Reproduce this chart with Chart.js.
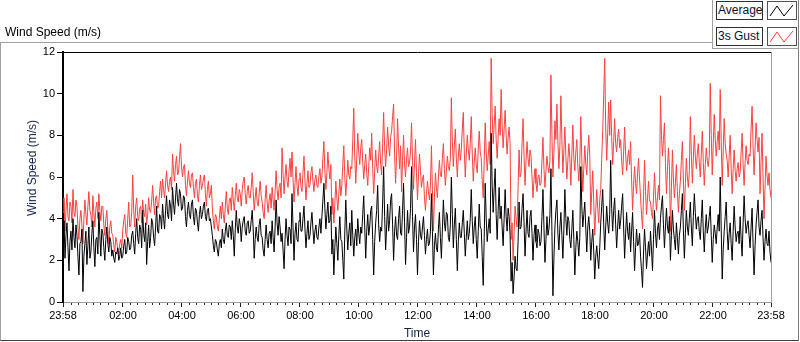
<!DOCTYPE html>
<html>
<head>
<meta charset="utf-8">
<script src="https://cdn.jsdelivr.net/npm/chart.js@4.4.0/dist/chart.umd.min.js"></script>
<style>
  html, body { margin: 0; padding: 0; background: #fff; }
  body { width: 800px; height: 342px; position: relative; overflow: hidden; font-family: "Liberation Sans", Arial, sans-serif; }
  #frame { position: absolute; left: 0; top: 42px; width: 797px; height: 297px; border-left: 1px solid #a0a0a0; border-top: 1px solid #a0a0a0; border-right: 1px solid #808080; border-bottom: 1px solid #404040; }
  #header { position: absolute; left: 5px; top: 25px; font-size: 12px; color: #000; white-space: nowrap; }
  #yTitle { position: absolute; left: 32px; top: 168px; transform: translate(-50%, -50%) rotate(-90deg); font-size: 12px; color: #14204a; white-space: nowrap; }
  #chart { position: absolute; left: 0; top: 0; }
  #legend { position: absolute; left: 712px; top: 0; width: 85px; height: 48px; background: #fff; border-left: 1px solid #a0a0a0; border-bottom: 1px solid #a0a0a0; border-right: 1px solid #808080; }
  .row { position: absolute; left: 3px; height: 17px; }
  .name { position: absolute; left: 0; top: 0; width: 44px; height: 17px; border: 1px solid #303030; background: #fff; font-size: 12px; line-height: 17px; padding-left: 1px; color: #0a1030; white-space: nowrap; overflow: hidden; }
  .icon { position: absolute; left: 51px; top: 0; width: 28px; height: 17px; border: 1px solid #505050; background: #fff; }
</style>
</head>
<body>
<div id="frame"></div>
<canvas id="chart" width="800" height="342"></canvas>
<div id="header">Wind Speed (m/s)</div>
<div id="yTitle">Wind Speed (m/s)</div>
<div id="legend"></div>
<script>
// values, about one sample every 2 minutes from 23:58 to 23:58
const average = [
  3.0, 3.9, 2.1, 3.2, 3.8, 2.6, 1.5, 2.9, 3.4, 2.5,  4.0, 3.1, 2.6, 3.7, 3.2, 2.2, 1.3, 2.8, 2.9, 3.5,
  0.5, 2.2, 2.8, 3.4, 1.8, 2.7, 3.6, 2.1, 2.4, 3.3,  3.9, 2.6, 1.7, 3.0, 3.1, 2.3, 4.3, 3.2, 2.2, 3.5,
  3.3, 2.6, 2.0, 3.0, 3.6, 2.8, 2.4, 3.1, 2.9, 2.2,  2.5, 2.1, 1.9, 2.4, 2.3, 2.6, 2.0, 2.2, 2.6, 2.1,
  2.2, 2.7, 3.0, 2.3, 2.4, 3.1, 2.9, 2.5, 2.6, 3.2,  3.4, 2.8, 2.3, 3.3, 4.0, 3.1, 2.8, 3.7, 3.5, 2.6,
  4.4, 3.3, 2.9, 3.8, 1.8, 2.9, 3.7, 2.6, 3.1, 4.0,  3.8, 3.1, 2.7, 3.6, 4.6, 3.4, 3.3, 4.2, 4.1, 3.5,
  4.7, 4.0, 3.5, 4.4, 5.1, 4.2, 4.0, 4.9, 4.6, 3.9,  5.5, 4.7, 4.2, 5.0, 5.7, 4.9, 4.6, 5.4, 5.2, 4.4,
  4.5, 5.1, 5.0, 4.1, 3.6, 4.4, 4.8, 4.2, 4.0, 4.7,  4.9, 4.1, 3.7, 4.5, 4.4, 3.8, 3.4, 4.2, 4.6, 4.0,
  4.2, 4.6, 4.8, 4.1, 3.9, 4.4, 4.5, 3.9, 4.0, 3.6,  3.2, 2.7, 2.4, 3.0, 2.9, 2.5, 2.2, 2.8, 3.0, 2.6,
  3.5, 3.0, 2.8, 3.4, 3.8, 3.2, 3.1, 3.7, 3.6, 3.0,  3.9, 3.2, 2.2, 3.5, 4.4, 3.6, 3.3, 4.0, 3.7, 2.9,
  3.6, 3.9, 4.1, 3.4, 3.2, 3.8, 3.9, 3.3, 3.4, 3.9,  4.4, 3.5, 2.1, 3.0, 3.6, 3.1, 2.9, 3.7, 4.0, 3.2,
  3.1, 2.5, 2.2, 3.0, 3.7, 3.0, 2.6, 3.3, 3.4, 2.8,  3.9, 3.1, 2.4, 3.6, 4.9, 3.8, 3.2, 4.1, 3.6, 2.9,
  3.3, 2.5, 1.6, 3.0, 4.0, 3.2, 2.7, 3.6, 3.5, 2.8,  5.2, 3.6, 2.0, 3.3, 3.8, 3.0, 2.9, 3.9, 4.3, 3.4,
  3.4, 4.0, 4.6, 3.5, 2.6, 3.3, 3.9, 3.0, 3.2, 3.8,  4.3, 3.5, 2.8, 3.4, 3.7, 3.1, 3.0, 3.6, 4.0, 3.3,
  4.1, 4.9, 5.7, 4.5, 3.5, 4.2, 4.8, 3.8, 3.9, 4.6,  2.3, 3.0, 1.3, 2.6, 3.6, 2.8, 2.0, 3.2, 4.1, 3.0,
  2.9, 2.0, 1.1, 3.4, 4.9, 3.5, 2.5, 3.3, 3.8, 2.7,  4.4, 3.2, 2.2, 3.1, 3.5, 2.7, 4.0, 3.3, 2.8, 3.6,
  3.3, 4.2, 5.1, 3.6, 2.1, 3.4, 4.2, 3.2, 3.6, 4.4,  4.6, 3.0, 1.3, 2.9, 3.8, 4.4, 5.6, 3.7, 2.9, 3.6,
  3.4, 4.8, 6.5, 4.1, 2.5, 3.6, 4.7, 3.4, 3.9, 4.9,  5.2, 3.7, 2.0, 3.4, 4.1, 3.2, 3.0, 4.0, 4.6, 3.3,
  3.2, 4.4, 5.7, 3.8, 1.8, 3.1, 4.4, 3.3, 3.6, 4.5,  6.5, 4.1, 2.4, 3.6, 4.2, 3.0, 1.3, 2.9, 3.9, 3.2,
  3.0, 3.6, 4.1, 3.2, 2.3, 3.0, 3.5, 2.7, 2.8, 3.4,  5.2, 3.4, 1.3, 2.7, 3.3, 2.6, 2.4, 3.5, 4.3, 3.1,
  2.1, 3.5, 4.9, 3.8, 3.4, 4.3, 4.2, 3.1, 2.9, 3.7,  6.0, 4.2, 2.6, 3.7, 4.5, 3.0, 1.5, 2.9, 3.8, 3.1,
  3.1, 3.8, 4.4, 3.3, 2.2, 3.1, 3.9, 3.0, 3.3, 4.0,  5.4, 3.9, 2.8, 3.6, 4.1, 3.0, 2.1, 3.4, 4.7, 3.6,
  3.5, 2.2, 0.8, 3.1, 5.7, 4.0, 2.9, 3.5, 4.0, 3.3,  8.1, 5.6, 4.3, 5.5, 6.4, 4.2, 3.0, 4.4, 5.5, 4.0,
  4.6, 3.6, 2.7, 4.0, 5.4, 4.1, 3.4, 4.5, 4.1, 3.2,  1.0, 1.9, 0.4, 1.2, 2.2, 1.6, 1.5, 2.9, 4.8, 3.5,
  3.6, 4.5, 5.2, 3.8, 2.2, 3.4, 4.4, 3.3, 3.1, 4.1,  4.4, 3.3, 2.0, 3.2, 3.7, 2.9, 2.6, 3.5, 3.3, 2.7,
  2.9, 4.1, 5.4, 3.6, 1.9, 3.0, 4.1, 3.2, 3.5, 4.2,  6.4, 3.4, 0.3, 2.1, 3.6, 4.4, 4.9, 3.3, 2.5, 3.6,
  4.3, 3.2, 2.1, 3.5, 5.4, 4.0, 3.2, 4.1, 3.9, 3.0,  2.6, 3.5, 4.4, 3.0, 1.3, 2.6, 3.4, 2.9, 2.2, 3.1,
  6.5, 4.6, 3.6, 4.2, 4.8, 3.5, 2.4, 3.6, 4.1, 3.4,  2.0, 2.9, 3.5, 2.4, 1.1, 2.2, 2.7, 2.1, 1.6, 2.6,
  3.8, 4.6, 5.4, 3.7, 2.5, 3.6, 4.6, 3.8, 3.3, 4.2,  6.8, 4.5, 3.4, 4.4, 5.0, 3.7, 2.6, 3.6, 4.4, 3.5,
  3.9, 4.6, 5.2, 3.6, 2.1, 3.3, 4.3, 3.4, 3.0, 3.8,  2.4, 3.4, 4.3, 2.9, 1.5, 2.6, 3.5, 2.7, 2.8, 3.3,
  2.2, 1.5, 0.7, 2.4, 3.5, 2.6, 1.6, 2.3, 2.9, 2.2,  3.4, 2.5, 1.5, 3.0, 4.4, 3.3, 2.6, 3.5, 3.8, 3.0,
  4.0, 4.6, 5.1, 3.7, 2.6, 3.6, 4.5, 3.6, 3.3, 4.1,  2.0, 3.2, 4.4, 3.5, 3.0, 2.5, 3.8, 3.1, 2.3, 3.2,
  3.6, 4.4, 5.2, 3.5, 2.1, 3.3, 4.4, 3.6, 3.2, 4.0,  4.8, 3.6, 2.7, 4.1, 5.2, 4.3, 3.5, 4.0, 4.1, 3.4,
  3.0, 4.0, 4.9, 3.4, 2.4, 3.5, 4.2, 3.3, 3.6, 4.1,  4.6, 3.2, 1.9, 3.0, 3.7, 3.3, 2.8, 3.6, 4.2, 3.4,
  6.0, 3.5, 1.1, 2.5, 3.4, 4.1, 4.8, 3.4, 2.5, 3.3,  3.8, 2.8, 2.0, 3.4, 4.6, 3.6, 2.9, 3.3, 3.4, 2.8,
  4.1, 3.0, 2.2, 3.8, 5.1, 4.0, 3.3, 3.7, 3.9, 3.2,  2.6, 3.6, 4.5, 2.8, 1.3, 2.7, 3.7, 4.3, 4.9, 3.6,
  3.2, 3.9, 4.4, 3.1, 2.0, 2.9, 3.5, 2.8, 2.7, 3.4, 2.4, 1.9
];
const gust = [
  4.3, 5.0, 3.4, 4.4, 5.2, 4.1, 3.9, 4.8, 4.6, 3.8,  5.4, 4.3, 4.1, 4.9, 4.6, 3.6, 3.0, 4.0, 4.4, 3.7,
  2.8, 4.0, 4.9, 4.2, 3.7, 4.6, 5.3, 4.4, 4.2, 3.6,  5.1, 4.3, 3.6, 4.5, 4.8, 4.0, 5.2, 4.4, 3.9, 4.6,
  4.6, 3.7, 3.2, 4.0, 4.4, 3.5, 2.8, 3.6, 3.9, 3.3,  3.2, 2.7, 2.4, 3.1, 2.9, 2.5, 2.3, 2.8, 3.0, 2.6,
  3.4, 3.9, 4.2, 3.3, 3.1, 4.0, 4.8, 3.6, 3.7, 4.3,  6.1, 4.4, 3.6, 4.6, 5.0, 4.1, 3.9, 4.5, 4.6, 3.8,
  4.9, 4.3, 4.1, 4.7, 3.7, 4.2, 5.0, 4.4, 4.3, 4.8,  5.6, 4.8, 4.2, 5.0, 5.1, 4.5, 4.6, 5.3, 5.8, 5.0,
  5.9, 5.4, 5.0, 5.7, 6.3, 5.6, 5.3, 5.8, 6.0, 5.4,  7.1, 6.3, 5.8, 6.6, 7.0, 6.1, 6.2, 6.9, 7.6, 6.5,
  6.0, 6.5, 6.6, 5.6, 5.1, 5.8, 6.3, 5.7, 5.5, 6.1,  6.2, 5.5, 5.0, 5.7, 5.9, 5.1, 4.8, 5.6, 6.1, 5.4,
  5.6, 5.9, 6.1, 5.2, 4.6, 5.4, 5.8, 5.0, 5.2, 5.6,  4.5, 3.9, 3.5, 4.2, 4.1, 3.6, 3.4, 4.0, 4.6, 4.0,
  4.8, 4.2, 3.8, 4.6, 5.3, 4.5, 4.2, 4.9, 5.0, 4.4,  5.5, 4.9, 4.4, 5.1, 5.7, 5.0, 4.8, 5.4, 5.2, 4.6,
  5.4, 5.8, 6.0, 5.2, 4.7, 5.3, 5.6, 5.0, 5.0, 5.5,  6.2, 5.3, 4.4, 5.0, 5.5, 4.8, 4.6, 5.2, 5.8, 5.1,
  4.8, 4.3, 4.0, 4.9, 5.6, 4.8, 4.3, 4.9, 5.2, 4.5,  5.5, 4.9, 4.4, 5.3, 6.3, 5.4, 4.9, 5.5, 5.7, 5.0,
  7.4, 6.1, 5.2, 6.0, 6.6, 5.8, 5.5, 6.3, 6.9, 6.0,  7.2, 5.9, 4.8, 5.7, 6.5, 5.6, 5.1, 5.9, 6.2, 5.5,
  5.3, 6.2, 7.0, 5.8, 4.9, 5.7, 6.3, 5.5, 5.6, 6.2,  6.5, 5.8, 5.3, 5.9, 6.1, 5.6, 5.5, 6.0, 6.4, 5.7,
  6.0, 6.9, 7.7, 6.3, 5.4, 6.2, 7.2, 6.4, 5.9, 6.6,  4.2, 5.0, 3.8, 4.7, 5.8, 5.0, 4.4, 5.2, 5.9, 5.1,
  5.6, 6.6, 7.5, 6.0, 5.1, 5.9, 6.8, 6.1, 5.9, 6.5,  6.4, 7.8, 9.3, 7.0, 5.7, 6.9, 8.1, 7.2, 6.6, 7.4,
  7.8, 6.7, 5.9, 6.6, 7.1, 6.2, 5.6, 6.5, 7.4, 6.8,  8.1, 6.4, 5.2, 6.3, 7.3, 6.5, 6.2, 7.0, 7.7, 6.6,
  6.1, 7.6, 9.1, 7.4, 6.5, 7.3, 8.4, 7.5, 7.0, 7.9,  8.2, 8.9, 9.5, 7.1, 5.7, 7.0, 8.8, 7.4, 6.4, 7.5,
  5.3, 6.8, 8.0, 6.6, 6.0, 6.9, 7.4, 6.5, 6.7, 7.2,  8.6, 6.8, 5.4, 6.7, 7.8, 6.2, 4.9, 6.1, 7.1, 6.3,
  5.5, 5.9, 6.1, 5.0, 4.4, 5.2, 5.8, 5.3, 4.9, 5.6,  7.5, 5.4, 3.4, 5.0, 6.2, 5.5, 5.0, 6.0, 6.8, 6.1,
  6.0, 6.9, 7.6, 6.4, 5.6, 6.3, 7.0, 6.5, 6.3, 6.9,  9.8, 7.7, 6.5, 7.5, 8.3, 6.9, 6.0, 7.0, 7.6, 6.8,
  7.3, 8.3, 9.1, 7.2, 6.0, 7.1, 8.0, 7.3, 6.8, 7.6,  8.9, 7.1, 5.8, 6.7, 7.4, 6.6, 6.2, 7.3, 8.2, 7.2,
  6.9, 5.8, 5.0, 6.8, 8.6, 7.2, 6.3, 7.0, 7.7, 6.6,  11.7, 9.0, 7.6, 8.5, 9.4, 7.8, 6.9, 7.9, 8.8, 8.0,
  10.2, 8.5, 7.4, 8.3, 9.2, 8.0, 7.1, 7.9, 8.4, 7.6,  3.0, 3.8, 2.0, 3.3, 4.6, 4.0, 3.6, 5.5, 7.3, 6.0,
  6.2, 7.6, 8.8, 7.0, 5.6, 6.8, 7.7, 6.9, 6.5, 7.3,  7.0, 6.0, 5.0, 5.9, 6.4, 5.7, 5.3, 6.0, 6.1, 5.6,
  5.7, 6.8, 7.9, 6.4, 5.5, 6.3, 7.0, 6.5, 6.2, 6.8,  10.9, 8.0, 6.0, 7.2, 8.7, 7.8, 9.5, 7.7, 6.4, 7.5,
  9.9, 7.8, 6.2, 7.3, 8.4, 7.0, 5.9, 6.8, 7.6, 6.9,  5.6, 7.1, 8.5, 6.9, 6.3, 7.2, 7.8, 6.5, 5.8, 6.7,
  8.9, 6.9, 5.3, 6.4, 7.5, 6.6, 6.1, 7.2, 8.0, 7.0,  4.2, 5.3, 6.3, 4.8, 3.2, 4.4, 5.4, 4.5, 3.8, 4.9,
  5.4, 6.9, 8.2, 9.9, 11.7, 8.4, 6.8, 8.1, 9.6, 8.0,  9.7, 7.9, 6.6, 7.7, 8.8, 7.6, 7.2, 7.9, 8.3, 7.4,
  7.8, 6.8, 6.1, 7.2, 8.4, 7.1, 6.3, 6.9, 7.3, 6.6,  7.7, 5.9, 4.4, 5.6, 6.5, 5.7, 5.2, 6.2, 6.9, 5.9,
  5.0, 4.2, 3.5, 5.1, 6.8, 5.3, 4.2, 5.0, 5.8, 4.9,  4.8, 4.3, 4.0, 5.0, 6.2, 5.1, 4.4, 5.0, 5.6, 4.9,
  9.9, 8.0, 7.0, 7.8, 8.6, 6.7, 5.2, 6.3, 7.4, 6.5,  3.4, 5.5, 7.3, 5.9, 5.0, 5.7, 6.6, 5.3, 4.3, 5.2,
  5.8, 6.8, 7.7, 5.9, 4.4, 5.7, 6.9, 6.0, 5.5, 6.3,  8.9, 7.1, 5.7, 6.9, 8.0, 7.0, 6.4, 7.1, 7.6, 6.7,
  6.0, 7.1, 8.2, 6.7, 5.6, 6.6, 7.4, 6.8, 6.5, 7.0,  10.5, 8.0, 6.1, 7.6, 9.0, 7.8, 7.0, 7.7, 8.2, 7.3,
  10.2, 7.7, 5.6, 7.3, 8.8, 7.6, 7.1, 6.8, 6.0, 7.0,  8.0, 6.4, 5.2, 6.4, 7.3, 6.3, 5.8, 6.4, 6.7, 6.0,
  6.2, 7.2, 8.1, 6.6, 5.6, 6.7, 7.5, 6.8, 6.6, 7.1,  7.0, 8.3, 9.4, 7.5, 6.1, 7.4, 8.6, 7.8, 7.2, 7.9,
  5.2, 6.7, 8.1, 6.0, 4.0, 5.5, 7.0, 6.1, 5.6, 6.2, 5.4, 5.0
];

// x axis: minutes after 23:58
const xTickValues = [0, 122, 242, 362, 482, 602, 722, 842, 962, 1082, 1202, 1322, 1440];
const xTickLabels = ['23:58', '02:00', '04:00', '06:00', '08:00', '10:00', '12:00',
                     '14:00', '16:00', '18:00', '20:00', '22:00', '23:58'];
const yTickValues = [0, 2, 4, 6, 8, 10, 12];

const span = 1440;
const minorTicks = [];
for (let t = 2; t < span; t += 15) {
  if (!xTickValues.includes(t)) minorTicks.push(t);
}

const fontFamily = '"Liberation Sans", Arial, sans-serif';

// samples are evenly spaced over the day
const toPoints = arr => arr.map((v, i) => ({ x: i * span / (arr.length - 1), y: v }));

const chart = new Chart(document.getElementById('chart'), {
  type: 'line',
  data: {
    datasets: [
      {
        label: 'Average',
        data: toPoints(average),
        borderColor: '#000000',
        borderWidth: 1,
        pointRadius: 0,
        tension: 0
      },
      {
        label: '3s Gust',
        data: toPoints(gust),
        borderColor: '#ff4040',
        borderWidth: 1,
        pointRadius: 0,
        tension: 0
      }
    ]
  },
  options: {
    responsive: false,
    animation: false,
    devicePixelRatio: 1,
    layout: { padding: { left: 0, top: 52, right: 29, bottom: 0 } },
    plugins: {
      legend: { display: false },
      tooltip: { enabled: false }
    },
    scales: {
      x: {
        type: 'linear',
        position: 'bottom',
        min: 0,
        max: span,
        afterBuildTicks: s => { s.ticks = xTickValues.map(v => ({ value: v })); },
        afterFit: s => { s.height = 40; },
        ticks: {
          autoSkip: false,
          maxRotation: 0,
          padding: 2,
          color: '#000',
          font: { family: fontFamily, size: 11 },
          callback: (v, i) => xTickLabels[i]
        },
        grid: { drawOnChartArea: false, tickLength: 5, tickColor: '#202020' },
        border: { display: true, color: '#a0a0a0', width: 1 },
        title: {
          display: true,
          text: 'Time',
          color: '#14204a',
          font: { family: fontFamily, size: 12 },
          padding: { top: 0, bottom: 1 }
        }
      },
      xMinor: {
        type: 'linear',
        position: 'bottom',
        weight: -1,
        min: 0,
        max: span,
        afterBuildTicks: s => { s.ticks = minorTicks.map(v => ({ value: v })); },
        afterFit: s => { s.height = 0; },
        ticks: { display: false },
        grid: { drawOnChartArea: false, tickLength: 3, tickColor: '#303030' },
        border: { display: false }
      },
      xTop: {
        type: 'linear',
        position: 'top',
        min: 0,
        max: span,
        afterFit: s => { s.height = 0; },
        ticks: { display: false },
        grid: { drawOnChartArea: false, drawTicks: false },
        border: { display: true, color: '#000', width: 1 }
      },
      y: {
        min: 0,
        max: 12,
        afterBuildTicks: s => { s.ticks = yTickValues.map(v => ({ value: v })); },
        afterFit: s => { s.width = 63; },
        ticks: { color: '#000', padding: 2, font: { family: fontFamily, size: 11 } },
        grid: { drawOnChartArea: false, tickLength: 6, tickColor: '#000' },
        border: { display: true, color: '#000', width: 2 }
      },
      yRight: {
        position: 'right',
        min: 0,
        max: 12,
        afterFit: s => { s.width = 0; },
        ticks: { display: false },
        grid: { drawOnChartArea: false, drawTicks: false },
        border: { display: true, color: '#a0a0a0', width: 1 }
      }
    }
  }
});

// LabVIEW style legend built from the chart's datasets
const legend = document.getElementById('legend');
chart.data.datasets.forEach((ds, i) => {
  const row = document.createElement('div');
  row.className = 'row';
  row.style.top = (1 + i * 26) + 'px';
  row.innerHTML =
    '<div class="name">' + ds.label + '</div>' +
    '<div class="icon"><svg width="28" height="17">' +
    '<polyline points="2,14 9,4 16,14 25,3" fill="none" stroke="' + ds.borderColor + '" stroke-width="1"/>' +
    '</svg></div>';
  legend.appendChild(row);
});
</script>
</body>
</html>
